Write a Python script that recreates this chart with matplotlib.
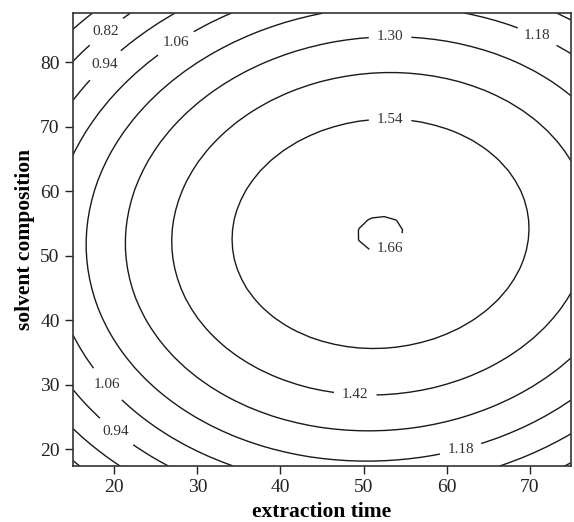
import numpy as np
import matplotlib
matplotlib.use("Agg")
import matplotlib.pyplot as plt

# response surface coefficients
PEAK = 1.663
X_CENTER = 52.05
Y_CENTER = 53.4
X_CURV = 0.000385
Y_CURV = 0.00039
XY_TERM = 0.0000364

X_RANGE = (15, 75)
Y_RANGE = (17.4, 87.6)

LEVELS = [0.70, 0.82, 0.94, 1.06, 1.18, 1.30, 1.42, 1.54, 1.66]

# where the labels sit on the lines (extraction time, solvent composition)
LABEL_SPOTS = [
    (18.9, 84.9), (18.9, 79.5), (27.3, 83.1), (53.2, 83.7), (71.0, 84.2),
    (53.2, 71.0), (52.9, 51.7), (49.0, 28.5), (61.7, 20.0),
    (18.9, 29.8), (19.9, 22.2),
]

plt.rcParams["font.family"] = ["Liberation Serif", "DejaVu Serif"]

x = np.linspace(X_RANGE[0], X_RANGE[1], 41)
y = np.linspace(Y_RANGE[0], Y_RANGE[1], 47)
X, Y = np.meshgrid(x, y)
dx = X - X_CENTER
dy = Y - Y_CENTER
Z = PEAK - X_CURV * dx ** 2 - Y_CURV * dy ** 2 + XY_TERM * dx * dy

fig = plt.figure(figsize=(5.74, 5.22), dpi=100)
ax = fig.add_axes([0.127, 0.107, 0.868, 0.868])

cs = ax.contour(X, Y, Z, levels=LEVELS, colors="#1a1a1a", linewidths=1.0)
labels = ax.clabel(cs, fmt="%.2f", fontsize=11, inline=True, inline_spacing=8,
                   manual=LABEL_SPOTS, colors="#333333")
for t in labels:
    t.set_rotation(0)

ax.set_xlim(*X_RANGE)
ax.set_ylim(*Y_RANGE)
ax.set_xticks([20, 30, 40, 50, 60, 70])
ax.set_yticks([20, 30, 40, 50, 60, 70, 80])
ax.tick_params(direction="out", length=6, width=1, labelsize=14,
               colors="#222222")
for side in ax.spines.values():
    side.set_linewidth(1.2)
    side.set_color("#333333")

ax.set_xlabel("extraction time", fontsize=15.5, fontweight="bold")
ax.set_ylabel("solvent composition", fontsize=15.5, fontweight="bold")

fig.savefig("out.png", dpi=100)
